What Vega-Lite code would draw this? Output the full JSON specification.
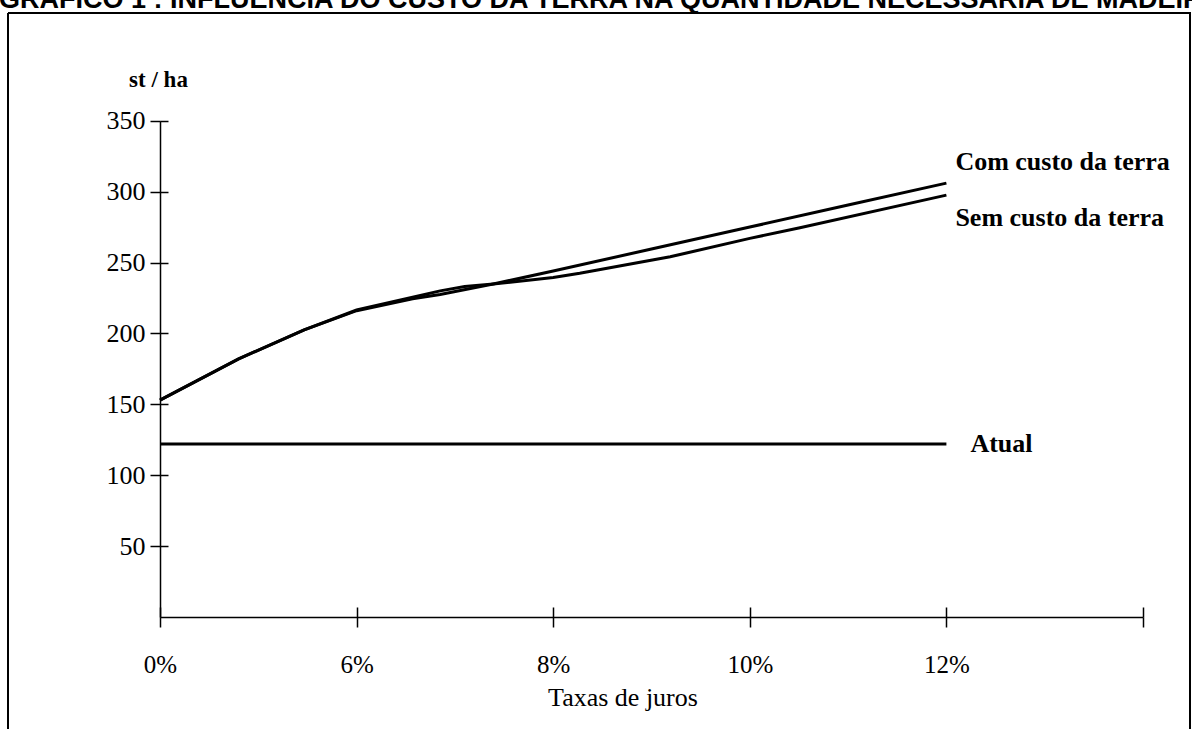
{
  "$schema": "https://vega.github.io/schema/vega-lite/v6.json",
  "width": 1182,
  "height": 716,
  "autosize": {"type": "none"},
  "padding": {"left": 8, "top": 13, "right": 2, "bottom": 0},
  "background": "white",
  "title": {
    "text": "GRÁFICO 1 : INFLUÊNCIA DO CUSTO DA TERRA NA QUANTIDADE NECESSÁRIA DE MADEIRA",
    "anchor": "start",
    "frame": "group",
    "font": "Liberation Sans",
    "fontSize": 27,
    "fontWeight": "bold",
    "color": "black",
    "baseline": "alphabetic",
    "offset": 3,
    "dx": -9,
    "dy": 25
  },
  "config": {
    "view": {"stroke": "black", "strokeWidth": 2, "strokeDash": [1898, 1182, 716, 0]},
    "font": "Liberation Serif"
  },
  "datasets": {
    "curvas": [
      {"taxa": 0, "valor": 153, "serie": "Com custo da terra"},
      {"taxa": 2.4, "valor": 182, "serie": "Com custo da terra"},
      {"taxa": 4.4, "valor": 202.5, "serie": "Com custo da terra"},
      {"taxa": 6, "valor": 216, "serie": "Com custo da terra"},
      {"taxa": 6.57, "valor": 224.5, "serie": "Com custo da terra"},
      {"taxa": 6.85, "valor": 227.5, "serie": "Com custo da terra"},
      {"taxa": 7.39, "valor": 234.8, "serie": "Com custo da terra"},
      {"taxa": 8, "valor": 244, "serie": "Com custo da terra"},
      {"taxa": 9, "valor": 259.5, "serie": "Com custo da terra"},
      {"taxa": 10, "valor": 275, "serie": "Com custo da terra"},
      {"taxa": 11, "valor": 290.5, "serie": "Com custo da terra"},
      {"taxa": 12, "valor": 306, "serie": "Com custo da terra"},
      {"taxa": 0, "valor": 153, "serie": "Sem custo da terra"},
      {"taxa": 2.4, "valor": 182, "serie": "Sem custo da terra"},
      {"taxa": 4.4, "valor": 202.5, "serie": "Sem custo da terra"},
      {"taxa": 6, "valor": 216.5, "serie": "Sem custo da terra"},
      {"taxa": 6.57, "valor": 225.5, "serie": "Sem custo da terra"},
      {"taxa": 6.85, "valor": 230, "serie": "Sem custo da terra"},
      {"taxa": 7.1, "valor": 233, "serie": "Sem custo da terra"},
      {"taxa": 7.39, "valor": 234.8, "serie": "Sem custo da terra"},
      {"taxa": 8, "valor": 239.5, "serie": "Sem custo da terra"},
      {"taxa": 8.27, "valor": 242.4, "serie": "Sem custo da terra"},
      {"taxa": 9.19, "valor": 254, "serie": "Sem custo da terra"},
      {"taxa": 10, "valor": 267, "serie": "Sem custo da terra"},
      {"taxa": 10.51, "valor": 274.5, "serie": "Sem custo da terra"},
      {"taxa": 12, "valor": 297.5, "serie": "Sem custo da terra"},
      {"taxa": 0, "valor": 122, "serie": "Atual"},
      {"taxa": 12, "valor": 122, "serie": "Atual"}
    ],
    "rotulos": [
      {"taxa": 12, "valor": 315, "rotulo": "Com custo da terra"},
      {"taxa": 12, "valor": 276, "rotulo": "Sem custo da terra"}
    ],
    "rotuloAtual": [
      {"taxa": 12, "valor": 116.4, "rotulo": "Atual"}
    ]
  },
  "layer": [
    {
      "data": {"name": "curvas"},
      "mark": {"type": "line", "color": "black", "strokeWidth": 3, "interpolate": "linear"},
      "encoding": {
        "x": {
          "field": "taxa",
          "type": "quantitative",
          "scale": {"domain": [0, 6, 8, 10, 12, 14], "range": [152, 348.6, 545.2, 741.8, 938.4, 1135], "nice": false, "zero": false},
          "axis": {
            "values": [0, 6, 8, 10, 12, 14],
            "labelExpr": "datum.value == 14 ? '' : datum.value + '%'",
            "offset": -112,
            "domain": true,
            "domainColor": "black",
            "domainWidth": 1.5,
            "ticks": true,
            "tickSize": 10,
            "tickColor": "black",
            "tickWidth": 1.5,
            "grid": true,
            "gridColor": "black",
            "gridWidth": 1.5,
            "gridDash": [0, 482, 10, 2000],
            "labelFont": "Liberation Serif",
            "labelFontSize": 25,
            "labelColor": "black",
            "labelBaseline": "alphabetic",
            "labelPadding": 45,
            "labelFlush": false,
            "labelOverlap": false,
            "labelBound": false,
            "title": "Taxas de juros",
            "titleFont": "Liberation Serif",
            "titleFontSize": 26,
            "titleFontWeight": "normal",
            "titleColor": "black",
            "titleX": 614.5,
            "titleY": 88,
            "titleAlign": "center",
            "titleBaseline": "alphabetic"
          }
        },
        "y": {
          "field": "valor",
          "type": "quantitative",
          "scale": {"domain": [0, 350], "range": [604, 107.7], "nice": false, "zero": false},
          "axis": {
            "values": [0, 50, 100, 150, 200, 250, 300, 350],
            "labelExpr": "datum.value == 0 ? '' : datum.label",
            "offset": -152,
            "domain": true,
            "domainColor": "black",
            "domainWidth": 1.5,
            "ticks": true,
            "tickSize": 10,
            "tickColor": "black",
            "tickWidth": 1.5,
            "tickOpacity": {"condition": {"test": "datum.value == 0", "value": 0}, "value": 1},
            "grid": true,
            "gridColor": "black",
            "gridWidth": 1.5,
            "gridDash": [8, 2000],
            "gridOpacity": {"condition": {"test": "datum.value == 0", "value": 0}, "value": 1},
            "labelFont": "Liberation Serif",
            "labelFontSize": 26,
            "labelColor": "black",
            "labelPadding": 5,
            "labelFlush": false,
            "labelOverlap": false,
            "labelBound": false,
            "title": "st / ha",
            "titleFont": "Liberation Serif",
            "titleFontSize": 23,
            "titleFontWeight": "bold",
            "titleColor": "black",
            "titleAngle": 0,
            "titleX": -2,
            "titleY": 73,
            "titleAlign": "center",
            "titleBaseline": "alphabetic"
          }
        },
        "detail": {"field": "serie", "type": "nominal"}
      }
    },
    {
      "data": {"name": "rotulos"},
      "mark": {"type": "text", "align": "left", "baseline": "alphabetic", "dx": 9, "font": "Liberation Serif", "fontSize": 26, "fontWeight": "bold", "color": "black"},
      "encoding": {
        "x": {"field": "taxa", "type": "quantitative"},
        "y": {"field": "valor", "type": "quantitative"},
        "text": {"field": "rotulo", "type": "nominal"}
      }
    },
    {
      "data": {"name": "rotuloAtual"},
      "mark": {"type": "text", "align": "left", "baseline": "alphabetic", "dx": 24, "font": "Liberation Serif", "fontSize": 26, "fontWeight": "bold", "color": "black"},
      "encoding": {
        "x": {"field": "taxa", "type": "quantitative"},
        "y": {"field": "valor", "type": "quantitative"},
        "text": {"field": "rotulo", "type": "nominal"}
      }
    }
  ]
}
